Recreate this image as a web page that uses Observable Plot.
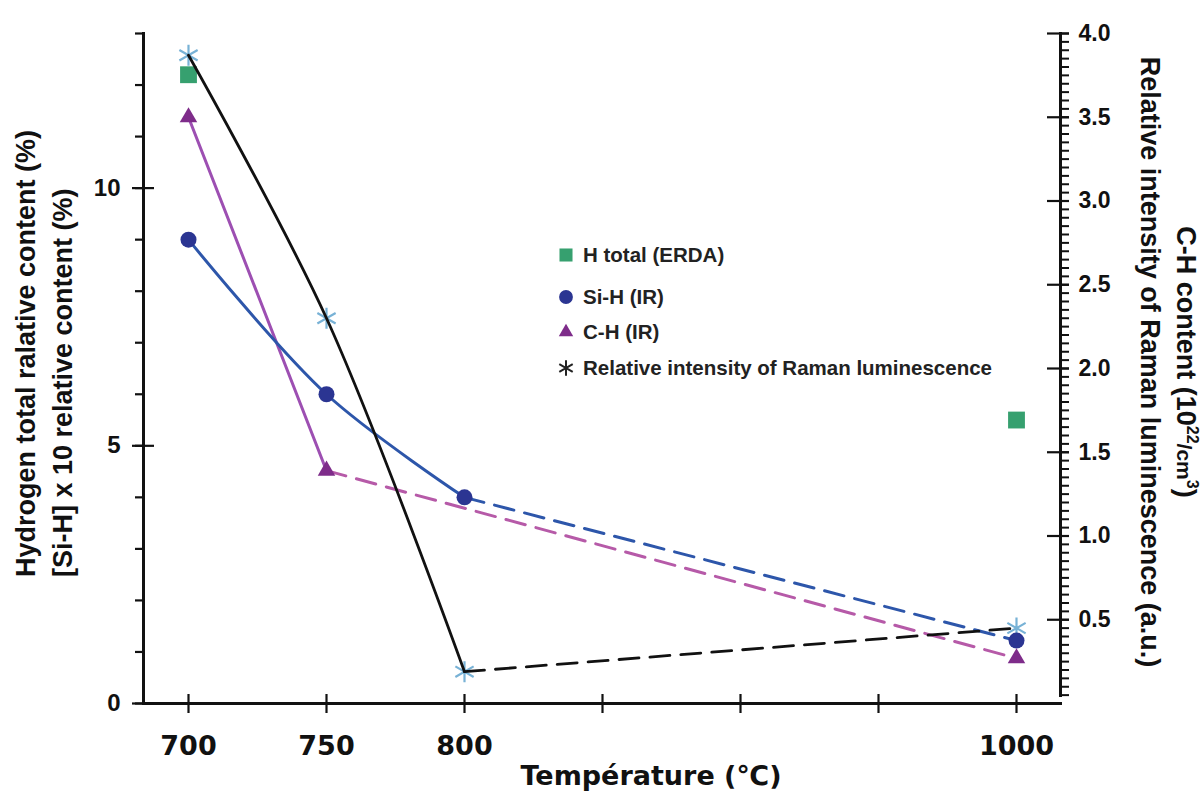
<!DOCTYPE html>
<html><head><meta charset="utf-8">
<script src="https://cdn.jsdelivr.net/npm/d3@7"></script>
<script src="https://cdn.jsdelivr.net/npm/@observablehq/plot@0.6"></script>
<style>body{margin:0;background:#fff} #chart{width:1204px;height:793px}</style>
</head><body><div id="chart"></div>
<script>
// ---- data ----
const temperatures = ["700","750","800","850","900","950","1000"];
const labeledTemperatures = ["700","750","800","1000"];
const hTotalTemps = ["700","1000"];
const hTotalValues = [12.2, 5.5];               // left axis
const siHTemps = ["700","750","800","1000"];
const siHValues = [9.0, 6.0, 4.0, 1.22];        // left axis
const chTemps = ["700","750","1000"];
const chValues = [3.5, 1.39, 0.27];             // right axis
const ramanTemps = ["700","750","800","1000"];
const ramanValues = [3.87, 2.30, 0.19, 0.45];   // right axis
const leftTickValues = [0, 5, 10];
const leftMinorTicks = d3.range(0, 14);
const rightTickValues = [0.5, 1.0, 1.5, 2.0, 2.5, 3.0, 3.5, 4.0];
const rightMinorTicks = d3.range(1, 81).map(i => i * 0.05);
const leftMax = 13, rightMax = 4;
const k = leftMax / rightMax;

const rows = (ts, vs, s = 1) => ts.map((t, i) => ({t, v: vs[i] * s}));
const hTotal = rows(hTotalTemps, hTotalValues);
const siH = rows(siHTemps, siHValues);
const ch = rows(chTemps, chValues, k);
const raman = rows(ramanTemps, ramanValues, k);

const C = {
  green: "#36a06f", blueDot: "#2b3592", blueLine: "#2d56aa",
  purpleDot: "#7e2c8a", purpleLine: "#9d4fb2", purpleDash: "#b65aa8",
  star: "#78b2d6", black: "#111"
};
const boldSans = "Liberation Sans, Arial, Helvetica, sans-serif";
const narrow = "DejaVu Sans, sans-serif";
const dash = "20,11";

const chart = Plot.plot({
  width: 1204, height: 793,
  marginLeft: 143, marginRight: 144, marginTop: 33, marginBottom: 90,
  style: {background: "#fff", color: C.black},
  x: {type: "point", domain: temperatures, padding: 0.3, axis: null},
  y: {domain: [0, leftMax], axis: null},
  marks: [
    // axis lines
    Plot.frame({anchor: "left", stroke: C.black, strokeWidth: 3}),
    Plot.frame({anchor: "bottom", stroke: C.black, strokeWidth: 3}),
    Plot.frame({anchor: "right", stroke: C.black, strokeWidth: 3, insetBottom: 8}),
    // left axis
    Plot.axisY({ticks: leftMinorTicks, tickSize: 8, tickFormat: () => "", label: null, strokeWidth: 2.2}),
    Plot.axisY({ticks: leftTickValues, tickSize: 22, dx: 11, tickFormat: () => "", label: null, strokeWidth: 2.2}),
    Plot.axisY({ticks: leftTickValues, tickSize: 0, tickPadding: 23, tickFormat: d => String(d), label: null,
      fontFamily: boldSans, fontSize: 24, fontWeight: "bold"}),
    // right axis
    Plot.axisY({anchor: "right", ticks: rightMinorTicks.map(v => v * k), tickSize: 8, tickFormat: () => "", label: null, strokeWidth: 2}),
    Plot.axisY({anchor: "right", ticks: rightTickValues.map(v => v * k), tickSize: 22, dx: -14, tickFormat: () => "", label: null, strokeWidth: 2.2}),
    Plot.axisY({anchor: "right", ticks: rightTickValues.map(v => v * k), tickSize: 0, tickPadding: 18, label: null,
      tickFormat: d => (d / k).toFixed(1), fontFamily: boldSans, fontSize: 23, fontWeight: "bold"}),
    // bottom axis
    Plot.axisX({ticks: temperatures, tickSize: 19, dy: -9, tickFormat: () => "", label: null, strokeWidth: 2.2}),
    Plot.axisX({ticks: labeledTemperatures, tickSize: 0, tickPadding: 32, tickFormat: d => d, label: null,
      fontFamily: narrow, fontSize: 27, fontWeight: "bold"}),
    // data
    Plot.dot(hTotal, {x: "t", y: "v", symbol: "square", r: 9.5, fill: C.green}),
    Plot.dot(raman, {x: "t", y: "v", symbol: "asterisk", r: 10, stroke: C.star, strokeWidth: 2.2, fill: "none"}),
    Plot.line(ch.slice(0, 2), {x: "t", y: "v", stroke: C.purpleLine, strokeWidth: 3}),
    Plot.line(ch.slice(1), {x: "t", y: "v", stroke: C.purpleDash, strokeWidth: 3, strokeDasharray: dash}),
    Plot.line(siH.slice(0, 3), {x: "t", y: "v", curve: "catmull-rom", stroke: C.blueLine, strokeWidth: 3}),
    Plot.line(siH.slice(2), {x: "t", y: "v", stroke: C.blueLine, strokeWidth: 3, strokeDasharray: dash}),
    Plot.line(raman.slice(0, 3), {x: "t", y: "v", curve: "catmull-rom", stroke: C.black, strokeWidth: 2.8}),
    Plot.line(raman.slice(2), {x: "t", y: "v", stroke: C.black, strokeWidth: 2.8, strokeDasharray: dash}),
    Plot.dot(siH, {x: "t", y: "v", r: 8, fill: C.blueDot}),
    Plot.dot(ch, {x: "t", y: "v", symbol: "triangle", r: 6.5, fill: C.purpleDot})
  ]
});
document.getElementById("chart").appendChild(chart);

const svg = d3.select(chart);

// ---- axis titles & legend ----
const title = (x, y, rot, anchor) => svg.append("text")
  .attr("transform", `translate(${x},${y}) rotate(${rot})`)
  .attr("text-anchor", anchor)
  .attr("font-family", boldSans).attr("font-size", 27).attr("font-weight", "bold").attr("fill", C.black);

title(35, 577, -90, "start").text("Hydrogen total ralative content (%)");
title(72, 577, -90, "start").text("[Si-H] x 10 relative content (%)");
const t1 = title(1177, 362, 90, "middle");
t1.append("tspan").text("C-H content (10");
t1.append("tspan").attr("dy", -10).attr("font-size", 16).text("22");
t1.append("tspan").attr("dy", 10).attr("font-size", 21).text("/cm");
t1.append("tspan").attr("dy", -10).attr("font-size", 16).text("3");
t1.append("tspan").attr("dy", 10).text(")");
title(1141, 362, 90, "middle").text("Relative intensity of Raman luminescence (a.u.)");
svg.append("text").attr("x", 651).attr("y", 785).attr("text-anchor", "middle")
  .attr("font-family", narrow).attr("font-size", 27).attr("font-weight", "bold").attr("fill", C.black)
  .text("Température (℃)");

const legendItems = [
  {label: "H total (ERDA)", symbol: d3.symbolSquare, size: 170, fill: C.green, y: 255},
  {label: "Si-H (IR)", symbol: d3.symbolCircle, size: 150, fill: C.blueDot, y: 297},
  {label: "C-H (IR)", symbol: d3.symbolTriangle, size: 90, fill: C.purpleDot, y: 332},
  {label: "Relative intensity of Raman luminescence", symbol: d3.symbolAsterisk, size: 170, stroke: "#222", y: 368}
];
const lg = svg.append("g");
for (const it of legendItems) {
  lg.append("path").attr("transform", `translate(566,${it.y})`)
    .attr("d", d3.symbol(it.symbol, it.size)())
    .attr("fill", it.fill || "none").attr("stroke", it.stroke || "none").attr("stroke-width", 2);
  lg.append("text").attr("x", 583).attr("y", it.y).attr("dy", "0.36em").attr("text-anchor", "start")
    .attr("font-family", boldSans).attr("font-size", 20.5).attr("font-weight", "bold").attr("fill", "#222")
    .text(it.label);
}
</script>
</body></html>
